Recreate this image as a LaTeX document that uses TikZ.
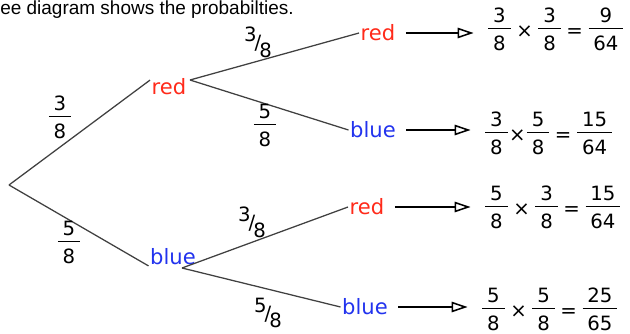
\documentclass[tikz,border=0pt]{standalone}
\usepackage{fontspec}
\usepackage{tikz}
\usetikzlibrary{arrows.meta,positioning}
\setmainfont{DejaVu Sans}
\newfontfamily\headfont{Liberation Sans}
\definecolor{TreeInk}{HTML}{404040}
\definecolor{TreeRed}{HTML}{FF2A1A}
\definecolor{TreeBlue}{HTML}{2233EE}
\setlength{\arrayrulewidth}{0.9pt}
\newcommand{\barfrac}[2]{\begin{tabular}{@{\hspace{3.5pt}}c@{\hspace{3.5pt}}}#1\\[-1pt]\hline\rule{0pt}{1.05em}#2\end{tabular}}
\newcommand{\slashfrac}[2]{\raisebox{0.4em}{#1}\kern-0.1em/\kern-0.1em\raisebox{-0.4em}{#2}}
\newcommand{\op}[1]{\hspace{4pt}#1\hspace{4pt}}

\begin{document}
\begin{tikzpicture}[x=0.025cm,y=-0.025cm,
    >={Triangle[open,length=4mm,width=2.6mm]},
    branch/.style={draw=TreeInk,line width=0.9pt},
    arr/.style={->,draw=black,line width=1.1pt,shorten <=2.2mm,shorten >=3.6mm},
    pick/.style={inner sep=1pt,font=\fontsize{15}{17}\selectfont},
    prob/.style={inner sep=0pt,font=\fontsize{14}{16}\selectfont},
    calc/.style={anchor=west,inner sep=0pt,font=\fontsize{14}{16}\selectfont}
  ]
  \useasboundingbox (0,0) rectangle (630,334);
  \node[anchor=base west,inner sep=0pt,font=\headfont\fontsize{13.5}{16}\selectfont]
    (title) at (0,15) {ee diagram shows the probabilties.};

  % first pick
  \coordinate (root) at (9,185);
  \node[pick,text=TreeRed] (r1) at (169,87) {red};
  \node[pick,text=TreeBlue] (b1) at (173,257) {blue};
  \draw[branch] (root) -- (r1.160);
  \draw[branch] (root) -- (b1.200);
  \node[prob] (p1) at (60,120) {\barfrac{3}{8}};
  \node[prob] (p2) at (69,245) {\barfrac{5}{8}};

  % second pick
  \coordinate (rfork) at (190,80);
  \coordinate (bfork) at (182,268);
  \node[pick,text=TreeRed] (rr) at (378,33) {red};
  \node[pick,text=TreeBlue] (rb) at (373,130) {blue};
  \node[pick,text=TreeRed] (br) at (367,207) {red};
  \node[pick,text=TreeBlue] (bb) at (365,307) {blue};
  \draw[branch] (rfork) -- (rr.west);
  \draw[branch] (rfork) -- (rb.west);
  \draw[branch] (bfork) -- (br.west);
  \draw[branch] (bfork) -- (bb.west);
  \node[prob] (p3) at (258,42) {\slashfrac{3}{8}};
  \node[prob] (p4) at (265,128) {\barfrac{5}{8}};
  \node[prob] (p5) at (252,222) {\slashfrac{3}{8}};
  \node[prob] (p6) at (268,313) {\slashfrac{5}{8}};

  % outcomes
  \node[calc] (e1) at (488,32) {\barfrac{3}{8}\op{×}\barfrac{3}{8}\op{=}\barfrac{9}{64}};
  \node[calc] (e2) at (485,136) {\barfrac{3}{8}\hspace{1pt}×\hspace{1pt}\barfrac{5}{8}\op{=}\barfrac{15}{64}};
  \node[calc] (e3) at (485,210) {\barfrac{5}{8}\op{×}\barfrac{3}{8}\op{=}\barfrac{15}{64}};
  \node[calc] (e4) at (482,312) {\barfrac{5}{8}\op{×}\barfrac{5}{8}\op{=}\barfrac{25}{65}};
  \draw[arr] (rr.east) -- (rr.east -| e1.west);
  \draw[arr] (rb.east) -- (rb.east -| e2.west);
  \draw[arr] (br.east) -- (br.east -| e3.west);
  \draw[arr] (bb.east) -- (bb.east -| e4.west);
\end{tikzpicture}
\end{document}
